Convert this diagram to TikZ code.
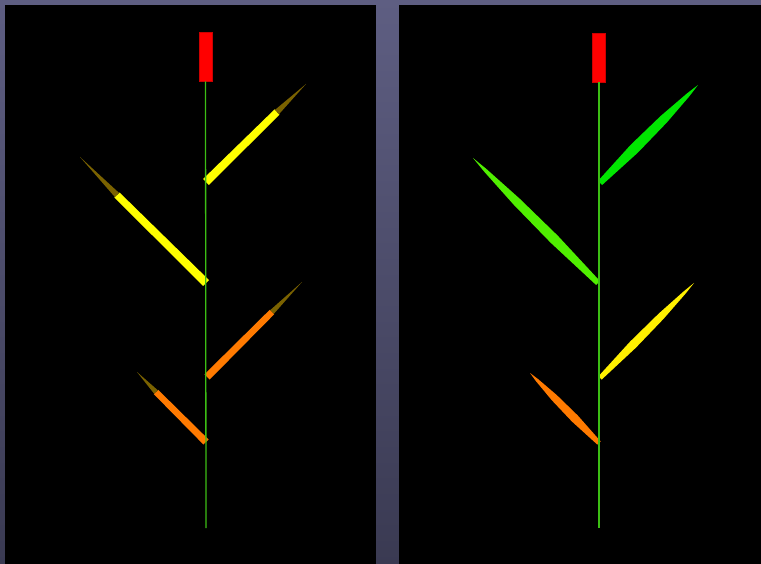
\documentclass[tikz,border=0pt]{standalone}
\usetikzlibrary{calc}
\definecolor{bgtop}{HTML}{5E5E82}
\definecolor{bgbot}{HTML}{3A3A52}
\definecolor{stemcol}{HTML}{3CBE14}
\definecolor{leafyel}{HTML}{FFFF00}
\definecolor{leaforg}{HTML}{FF7A00}
\definecolor{leafgrn}{HTML}{00E600}
\definecolor{leaflime}{HTML}{50EE00}
\definecolor{leafyeltwo}{HTML}{FFF000}
\definecolor{tipcol}{HTML}{7A6200}
\tikzset{
  panel/.style={fill=black},
  budbox/.style={draw=red!80!black, fill=red, line width=0.6pt,
                 minimum width=13pt, minimum height=49pt, inner sep=0pt},
  stem/.style={draw=stemcol, line width=1.3pt},
}
% band leaf with a dark tapered tip: base, joint, tip, colour, half width
\newcommand{\bandleaf}[5]{%
  \fill[#4] ($(#1)!#5pt!90:(#3)$) -- ($(#2)!#5*0.85pt!90:(#3)$)
        -- ($(#2)!#5*0.85pt!-90:(#3)$) -- ($(#1)!#5pt!-90:(#3)$) -- cycle;
  \fill[tipcol] ($(#2)!#5*0.7pt!90:(#3)$) -- (#3) -- ($(#2)!#5*0.7pt!-90:(#3)$) -- cycle;
}
% spindle leaf: base, tip, colour, half width
\newcommand{\spindleaf}[4]{%
  \fill[#3] ($(#1)!#4*0.55pt!90:(#2)$)
        -- ($(#1)!0.35!(#2)!#4pt!90:(#2)$)
        -- ($(#1)!0.65!(#2)!#4*0.85pt!90:(#2)$)
        -- ($(#1)!0.9!(#2)!#4*0.35pt!90:(#2)$)
        -- (#2)
        -- ($(#1)!0.9!(#2)!#4*0.35pt!-90:(#2)$)
        -- ($(#1)!0.65!(#2)!#4*0.85pt!-90:(#2)$)
        -- ($(#1)!0.35!(#2)!#4pt!-90:(#2)$)
        -- ($(#1)!#4*0.55pt!-90:(#2)$) -- cycle;
}

\begin{document}
\begin{tikzpicture}[x=1pt, y=-1pt]

  % --- backdrop and the two views -----------------------------------
  \useasboundingbox (0,0) rectangle (761,564);
  \shade[top color=bgtop, bottom color=bgbot] (0,0) rectangle (761,564);
  \fill[panel] (5,5) rectangle (376,564);
  \fill[panel] (399,5) rectangle (761,564);

  % --- left plant ---------------------------------------------------
  \node[budbox] (budL) at (205.5,56.5) {};
  \coordinate (rootL) at (206,528);
  \bandleaf{206,182}{277,112}{306,84}{leafyel}{4.2}
  \bandleaf{206,283}{117,195}{80,157}{leafyel}{4.2}
  \bandleaf{207,377}{272,312}{302,282}{leaforg}{3.7}
  \bandleaf{206,442}{156,392}{137,372}{leaforg}{3.6}
  \draw[stem] (budL.south) -- (rootL);

  % --- right plant --------------------------------------------------
  \node[budbox] (budR) at (599,57.5) {};
  \coordinate (rootR) at (599,528);
  \spindleaf{600,183}{698,85}{leafgrn}{5.3}
  \spindleaf{598,283}{473,158}{leaflime}{5}
  \spindleaf{600,378}{694,283}{leafyeltwo}{4.2}
  \spindleaf{599,443}{530,373}{leaforg}{4.2}
  \draw[stem] (budR.south) -- (rootR);

\end{tikzpicture}
\end{document}
